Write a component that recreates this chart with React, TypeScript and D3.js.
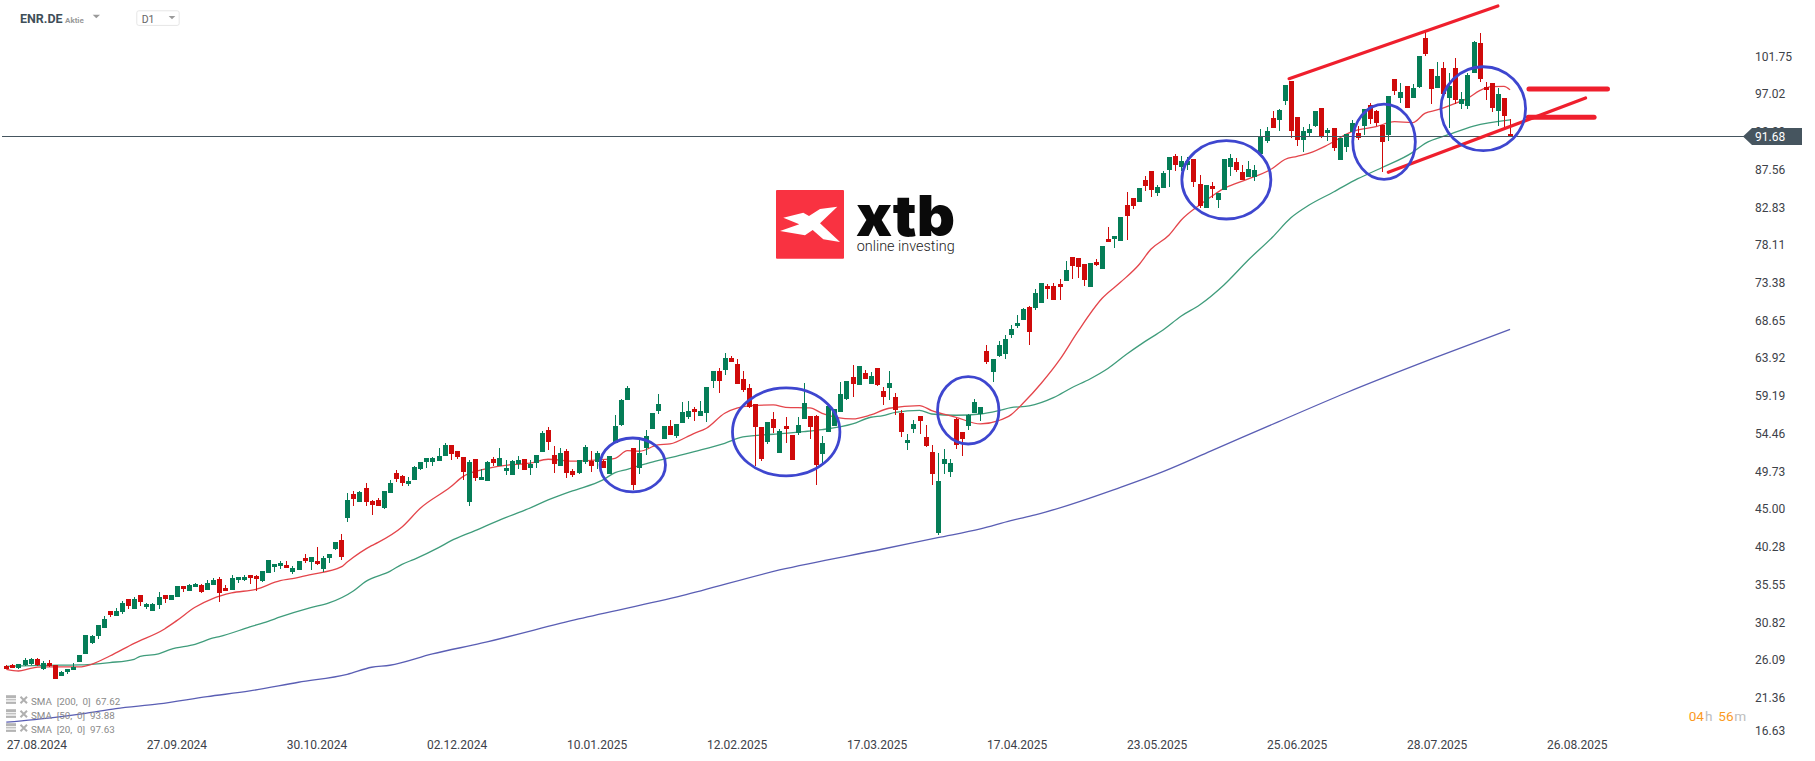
import * as d3 from 'd3';
import React, { useEffect, useRef } from 'react';

const WIDTH = 1815;
const HEIGHT = 761;

const opens = [
  25.43,25.51,25.22,25.56,25.68,26.31,25.10,25.77,25.51,24.18,
  24.64,24.93,25.93,26.94,28.31,29.23,30.19,32.32,31.70,32.20,
  33.83,32.57,34.33,32.83,32.32,33.08,34.33,33.70,34.08,35.46,
  34.83,35.33,35.58,34.95,35.58,36.33,35.21,34.95,36.21,36.21,
  36.83,36.71,36.08,37.09,37.84,37.96,38.09,37.21,37.46,38.96,
  38.46,38.59,37.59,38.96,40.09,41.22,43.98,46.98,45.98,47.74,
  46.11,46.23,45.23,47.11,49.62,49.24,48.24,48.74,50.12,51.00,
  51.00,51.12,51.75,53.13,52.38,51.63,45.99,51.38,48.75,48.62,
  51.38,50.50,49.87,49.37,50.75,51.38,50.25,50.88,52.26,55.01,
  51.88,50.50,52.38,49.87,49.62,51.00,51.13,51.00,51.13,49.50,
  53.38,55.64,58.77,52.76,50.25,52.76,55.14,57.39,53.88,55.51,
  54.26,55.89,56.64,57.64,56.77,57.14,61.15,62.41,62.53,64.04,
  63.28,61.40,60.27,58.27,55.39,53.51,56.39,52.13,55.51,54.39,
  54.64,56.39,56.77,56.77,52.00,54.76,55.51,57.27,58.90,61.65,
  60.65,62.15,60.78,62.78,59.90,60.27,59.14,57.14,53.38,55.13,
  56.76,54.13,52.25,42.06,50.75,49.75,56.39,54.76,55.51,57.14,
  57.01,64.91,62.28,64.28,64.53,66.91,68.04,68.79,70.42,70.30,
  70.92,73.05,73.05,73.30,73.68,76.69,76.56,75.81,72.93,76.06,
  75.18,78.94,78.94,78.69,83.20,84.08,83.58,86.34,87.46,84.71,
  85.33,87.59,89.34,87.97,88.22,88.97,85.84,82.83,85.59,83.83,
  85.08,87.97,88.59,87.34,86.71,86.71,89.59,91.22,94.11,93.86,
  96.24,98.74,94.23,91.35,92.22,93.10,95.36,92.22,92.85,88.84,
  90.47,92.35,92.22,93.10,95.73,94.98,93.23,91.97,98.99,96.61,
  98.11,96.61,97.99,104.13,100.24,97.86,100.37,96.61,100.37,95.86,
  95.61,99.74,103.50,97.99,98.49,94.98,96.61,92.10,
];

const highs = [
  25.56,25.68,25.68,26.43,26.48,26.43,26.06,26.18,25.56,24.80,
  25.10,25.77,26.85,29.32,29.32,30.57,31.66,32.32,32.66,33.53,
  33.83,34.04,34.33,33.33,33.33,34.70,34.33,34.33,35.46,35.46,
  35.71,35.83,35.71,36.21,36.46,36.58,35.58,36.83,36.63,36.83,
  36.83,36.83,37.34,38.71,38.21,38.59,38.59,37.96,38.59,39.47,
  39.09,40.34,39.22,39.47,40.97,41.97,47.11,47.36,47.36,48.36,
  46.23,46.48,47.36,48.74,49.99,49.37,49.12,50.49,51.00,51.50,
  51.62,52.75,53.38,53.13,52.38,51.63,51.25,51.38,50.13,51.13,
  51.63,52.76,51.25,51.25,51.75,51.38,51.25,51.88,54.89,55.39,
  53.01,52.76,52.63,50.13,51.25,53.13,52.38,52.38,51.25,51.75,
  56.89,58.90,60.53,52.76,53.76,55.01,57.14,59.52,55.51,56.26,
  55.76,58.52,58.65,57.89,58.65,60.40,62.41,62.78,64.66,64.29,
  63.91,62.41,60.78,58.27,55.39,56.01,57.27,55.14,56.64,54.39,
  56.64,60.90,56.77,56.89,54.26,58.02,57.64,61.03,61.15,63.16,
  63.03,62.53,62.28,62.78,60.40,62.41,59.60,57.52,54.51,56.26,
  56.76,55.64,53.13,52.13,52.63,51.37,56.51,54.76,57.01,58.89,
  57.89,65.66,63.91,66.16,66.91,68.17,69.42,70.30,70.55,72.68,
  73.43,73.30,73.43,73.93,76.19,76.69,76.56,75.81,75.94,76.44,
  78.07,80.45,79.32,81.70,84.83,84.08,85.33,86.84,87.46,85.71,
  87.46,89.22,89.59,89.34,89.22,88.97,86.96,85.71,86.09,84.71,
  88.97,89.59,89.09,88.22,88.72,88.22,92.73,92.98,94.98,95.23,
  98.24,98.74,94.23,92.98,93.35,94.98,95.36,92.85,92.85,91.60,
  92.10,93.85,93.10,95.23,95.98,95.11,93.23,96.86,98.99,98.49,
  98.11,98.36,101.87,104.88,100.24,101.12,101.12,99.74,101.62,97.36,
  99.74,103.75,104.75,98.61,98.49,97.86,96.61,93.98,
];

const lows = [
  25.01,25.18,25.10,25.47,25.56,25.47,24.97,25.35,23.80,24.14,
  24.43,24.89,25.89,26.94,28.19,28.81,30.15,31.61,31.70,31.95,
  32.62,32.57,32.95,32.57,32.32,32.57,33.33,33.70,34.08,34.70,
  34.83,35.33,34.58,34.95,35.58,33.45,34.83,34.95,35.83,36.08,
  35.71,34.83,35.96,37.09,37.21,37.59,37.71,36.96,37.46,38.34,
  37.46,38.09,37.21,38.34,39.97,38.71,43.48,45.48,45.98,45.48,
  44.35,45.48,45.10,47.11,48.49,47.99,47.99,48.74,49.99,50.24,
  50.49,51.12,51.75,51.25,51.38,48.75,45.49,48.62,48.75,48.62,
  50.50,50.50,49.37,49.37,50.13,50.00,49.37,50.25,52.26,52.51,
  49.62,50.50,49.00,49.12,49.50,50.75,49.75,50.13,50.25,49.50,
  53.38,55.51,58.77,47.49,49.50,51.88,55.14,57.02,53.88,54.39,
  54.01,55.89,56.39,56.14,56.77,56.01,60.27,59.65,61.90,63.53,
  60.78,59.77,57.77,50.50,51.13,53.26,54.64,52.13,53.38,51.25,
  54.39,56.39,53.88,48.12,50.75,54.76,55.51,57.27,58.77,59.15,
  60.65,61.40,60.78,60.53,58.14,58.77,56.89,54.13,52.50,54.63,
  54.51,52.88,48.12,41.85,49.50,49.12,52.63,51.75,55.01,57.14,
  56.14,63.28,61.02,64.16,63.91,66.54,67.79,68.79,65.66,70.05,
  70.92,71.42,71.30,71.30,73.68,73.93,74.06,73.05,72.93,75.56,
  75.18,78.57,77.82,78.69,78.82,82.70,83.58,84.96,84.21,84.33,
  85.33,85.46,87.46,87.46,87.59,85.46,82.83,82.83,84.08,82.83,
  85.08,86.84,87.34,86.34,86.71,86.21,89.59,90.97,92.85,92.48,
  95.73,91.60,90.60,89.84,91.85,92.98,91.60,91.22,89.97,88.84,
  89.84,91.72,91.35,91.97,93.35,93.10,87.34,91.22,96.99,95.98,
  95.36,96.61,97.86,101.87,95.86,97.86,97.11,92.85,95.86,95.23,
  95.23,99.74,98.61,96.36,94.85,93.10,92.72,91.76,
];

const closes = [
  25.10,25.22,25.64,26.18,26.31,25.56,25.77,25.43,23.84,24.68,
  25.06,25.35,26.81,29.32,29.19,30.53,31.32,31.86,32.32,33.37,
  32.95,33.83,33.45,33.20,33.20,34.04,33.83,34.33,35.46,35.08,
  35.58,35.71,34.70,35.83,36.21,34.58,34.83,36.46,36.58,36.58,
  36.46,36.33,37.34,38.71,38.21,38.34,37.71,37.71,38.59,38.59,
  39.09,38.21,38.96,39.47,40.97,39.09,46.23,46.36,47.24,45.98,
  45.61,45.48,47.36,48.36,48.86,48.36,48.61,50.37,51.00,51.50,
  51.50,51.75,53.12,52.00,51.63,49.75,51.00,49.00,49.12,51.00,
  50.88,51.50,50.25,51.13,51.25,50.00,50.75,51.88,54.64,53.51,
  50.75,52.13,49.62,49.37,51.25,52.88,50.50,52.13,50.25,51.75,
  55.51,58.77,60.27,48.12,52.13,54.26,57.14,58.27,55.51,54.39,
  55.76,57.27,57.39,57.27,57.39,60.40,62.41,61.15,64.04,63.53,
  60.78,60.02,57.89,55.39,51.38,56.01,55.26,54.89,55.14,51.25,
  55.64,58.40,55.39,50.63,53.38,58.02,57.64,59.52,61.15,60.78,
  63.03,61.40,61.78,60.65,59.15,60.90,57.52,54.76,53.76,55.76,
  56.14,53.00,49.50,48.62,51.37,50.87,53.13,53.88,56.89,58.52,
  57.89,63.53,63.91,65.66,66.41,67.67,68.42,70.17,67.29,72.18,
  73.43,72.68,71.30,72.93,75.06,75.56,75.43,73.81,75.94,75.68,
  78.07,78.57,79.32,81.70,81.83,83.08,85.33,85.59,85.08,85.46,
  87.21,89.22,88.22,88.72,88.72,86.09,83.08,85.71,85.21,84.71,
  88.97,89.09,87.59,86.34,87.72,87.59,91.72,92.48,92.85,95.11,
  98.24,92.48,91.35,92.47,92.73,94.98,91.72,92.60,90.34,91.60,
  92.10,93.48,91.60,95.23,93.98,93.48,91.10,96.86,97.49,97.36,
  95.36,97.86,101.87,102.12,97.74,99.37,97.11,98.11,96.36,96.48,
  99.49,103.63,98.99,97.61,95.35,97.11,94.35,91.85,
];

// moving averages at these bars
const sma20Bars = [0,2,4,6,12,14,17,21,26,28,31,34,37,41,45,47,50,55,56,60,61,65,68,73,75,78,82,86,89,93,97,100,102,104,107,109,113,115,118,120,122,126,128,132,134,139,142,145,150,152,156,160,163,165,167,170,173,176,180,183,186,188,191,193,196,198,200,202,205,208,210,212,214,217,221,225,228,231,233,235,238,240,242,244,246,247];
const sma20Values = [25.01,24.80,25.14,25.31,25.31,25.64,26.68,28.27,30.07,31.11,32.78,33.91,34.58,35.04,36.12,36.37,36.88,37.84,38.46,40.51,40.89,42.85,45.19,47.88,49.16,50.00,50.58,50.84,51.34,51.09,51.25,51.46,52.42,52.34,53.13,53.26,54.59,55.22,57.10,57.73,58.02,58.14,57.85,57.77,57.10,56.39,56.89,57.73,58.06,57.43,56.60,55.76,56.18,56.90,58.35,60.86,63.78,67.33,71.51,73.51,75.68,77.65,79.44,81.32,83.20,84.30,85.29,85.92,86.75,87.80,88.90,89.30,89.70,90.72,92.39,93.02,93.64,93.52,94.69,95.11,95.94,96.57,97.53,98.03,98.07,97.63];

const sma50Bars = [0,6,12,14,17,21,22,25,27,31,34,35,40,43,45,50,53,57,59,63,65,67,71,73,77,82,85,89,93,98,100,102,105,107,110,113,118,121,126,131,134,139,142,144,146,150,152,156,160,163,165,168,172,175,178,181,184,187,190,193,196,200,204,208,211,214,218,222,226,231,233,237,241,247];
const sma50Values = [25.39,25.51,25.56,25.64,25.85,26.27,26.64,26.94,27.52,28.15,28.94,29.11,30.32,31.03,31.57,32.74,33.33,34.83,36.00,37.29,38.17,38.80,40.26,41.10,42.40,44.03,44.90,46.24,47.37,48.75,49.67,50.08,50.75,51.17,51.71,52.30,53.34,54.13,54.47,54.80,55.05,55.76,56.60,56.80,57.22,57.47,57.01,56.85,57.01,57.43,57.80,58.02,59.06,60.30,61.40,62.74,64.49,66.08,67.54,69.29,70.67,73.18,76.31,79.20,81.60,83.20,84.83,86.50,87.90,89.80,90.90,92.05,93.10,93.88];

const sma200Bars = [0,8,13,18,25,33,40,48,56,60,63,70,78,94,111,127,144,153,160,165,169,183,190,198,209,220,235,247];
const sma200Values = [18.38,19.00,19.50,20.09,20.67,21.59,22.30,23.39,24.39,25.27,25.52,26.94,28.28,31.32,34.24,37.46,40.09,41.51,42.60,43.65,44.36,47.82,49.79,52.42,56.05,59.64,64.16,67.62];

const priceTicks = [101.75,97.02,92.29,87.56,82.83,78.11,73.38,68.65,63.92,59.19,54.46,49.73,45.00,40.28,35.55,30.82,26.09,21.36,16.63];
const dateTicks = ['27.08.2024','27.09.2024','30.10.2024','02.12.2024','10.01.2025','12.02.2025','17.03.2025','17.04.2025','23.05.2025','25.06.2025','28.07.2025','26.08.2025'];
const barsPerDateTick = 23;

const lastPrice = 91.68;

// hand drawn circles of the analyst, in bars and price
const circleBars = [102.9,128.1,158.0,200.4,226.3,242.6];
const circlePrices = [50.62,54.76,57.47,86.36,91.13,95.27];
const circleBarRadius = [5.37,8.82,5.04,7.31,5.14,6.95];
const circlePriceRadius = [3.38,5.51,4.22,4.91,4.72,5.26];

// hand drawn red lines: [bar, price, bar, price]
const channelLines = [
  [210.7,99.03,245,108.14],
  [227,87.3,259.4,96.61],
];
const levelLines = [
  [250.1,97.74,263],
  [250,94.19,260.8],
];

const legendLabels = ['SMA  [200,  0]  67.62','SMA  [50,  0]  93.88','SMA  [20,  0]  97.63'];

const UP = '#057d57';
const DOWN = '#cf0a0a';
const SMA20 = '#e4454b';
const SMA50 = '#3f9c7b';
const SMA200 = '#5a5eb4';
const MARK_RED = '#ef1f2d';
const MARK_BLUE = '#3e46cf';
const FONT = 'Roboto, sans-serif';

const x = d3.scaleLinear().domain([0, 253]).range([6.3, 1546.6]);
const y = d3.scaleLinear().domain([101.75, 26.09]).range([57, 660.7]);

const smaPath = (bars: number[], values: number[]) =>
  d3
    .line<number>()
    .x((d) => x(d))
    .y((_, i) => y(values[i]))
    .curve(d3.curveMonotoneX)(bars) ?? '';

const App: React.FC = () => {
  const xAxisRef = useRef<SVGGElement | null>(null);
  const yAxisRef = useRef<SVGGElement | null>(null);

  useEffect(() => {
    if (!xAxisRef.current || !yAxisRef.current) return;

    const xAxis = d3
      .axisBottom(x)
      .tickValues(dateTicks.map((_, i) => i * barsPerDateTick))
      .tickFormat((_, i) => dateTicks[i])
      .tickSize(0)
      .tickPadding(0);
    const gx = d3.select(xAxisRef.current).call(xAxis as any);
    gx.select('.domain').remove();
    gx.selectAll('text')
      .attr('text-anchor', 'start')
      .attr('dy', '0')
      .attr('y', 0)
      .style('font-family', FONT)
      .style('font-size', '12px')
      .style('fill', '#3d4249');

    const yAxis = d3
      .axisRight(y)
      .tickValues(priceTicks)
      .tickFormat((d) => (d as number).toFixed(2))
      .tickSize(0)
      .tickPadding(0);
    const gy = d3.select(yAxisRef.current).call(yAxis as any);
    gy.select('.domain').remove();
    gy.selectAll('text')
      .attr('x', 0)
      .style('font-family', FONT)
      .style('font-size', '12px')
      .style('fill', '#3d4249');

    // the lowest label is pushed up so it stays above the date row
    gy.selectAll<SVGGElement, number>('.tick')
      .filter((d) => d === 16.63)
      .attr('transform', 'translate(0,732)');
  }, []);

  const lineY = Math.floor(y(lastPrice)) - 0.5;

  return (
    <svg
      width={WIDTH}
      height={HEIGHT}
      viewBox={`0 0 ${WIDTH} ${HEIGHT}`}
      style={{ position: 'absolute', left: 0, top: 0, background: '#fff', display: 'block' }}
    >
      {/* header */}
      <text x={20} y={22.7} fontFamily={FONT} fontSize={12.5} fontWeight={700} fill="#3f4f59">ENR.DE</text>
      <text x={65} y={22.5} fontFamily={FONT} fontSize={8} fontWeight={700} fill="#9a9a9a">Aktie</text>
      <path d="M92.7,14.7H100L96.3,18.3Z" fill="#9a9a9a" />
      <rect x={136.8} y={10.8} width={42.4} height={14.6} rx={2} fill="#fff" stroke="#e6e6e6" />
      <text x={141.7} y={22.7} fontFamily={FONT} fontSize={10.5} fill="#666">D1</text>
      <path d="M168.7,16H175.3L172,19.3Z" fill="#9a9a9a" />

      {/* logo */}
      <g transform="translate(776,190)">
        <rect width={68} height={68.7} rx={1} fill="#f93241" />
        <path
          d="M7.3,27.7L27.3,22.7L33,26L44,19L61.3,16.7L44,33.3L64,52L47.3,49.3L36.7,40L29,45.3L4,41L23.3,34.3Z"
          fill="#fff"
        />
      </g>
      <text x={856} y={235.7} fontFamily="Inter, sans-serif" fontSize={56} fontWeight={900} fill="#0a0a0a" textLength={99} lengthAdjust="spacingAndGlyphs">xtb</text>
      <text x={856.7} y={251} fontFamily={FONT} fontSize={14} fontWeight={300} fill="#222" textLength={98} lengthAdjust="spacingAndGlyphs">online investing</text>

      {/* moving averages */}
      <path d={smaPath(sma200Bars, sma200Values)} fill="none" stroke={SMA200} strokeWidth={1.3} />
      <path d={smaPath(sma50Bars, sma50Values)} fill="none" stroke={SMA50} strokeWidth={1.3} />
      <path d={smaPath(sma20Bars, sma20Values)} fill="none" stroke={SMA20} strokeWidth={1.3} />

      {/* candles */}
      <g shapeRendering="crispEdges">
        {opens.map((open, i) => {
          const close = closes[i];
          const color = close >= open ? UP : DOWN;
          const cx = Math.round(x(i));
          const top = y(Math.max(open, close));
          const bottom = y(Math.min(open, close));
          return (
            <g key={i} fill={color}>
              <rect x={cx} y={y(highs[i])} width={1} height={y(lows[i]) - y(highs[i])} />
              <rect x={cx - 2} y={top} width={5} height={Math.max(bottom - top, 1)} />
            </g>
          );
        })}
      </g>

      {/* last price line, axis and tag */}
      <g ref={yAxisRef} transform="translate(1755,-0.7)" />
      <g ref={xAxisRef} transform="translate(0,749)" />
      <line x1={2} x2={1745} y1={lineY} y2={lineY} stroke="#45555f" strokeWidth={1.2} />
      <path
        d={`M1743,${lineY}L1752,${lineY - 8.5}H1802V${lineY + 8.5}H1752Z`}
        fill="#46555f"
      />
      <text x={1755} y={lineY + 4.3} fontFamily={FONT} fontSize={12} fill="#fff">{lastPrice.toFixed(2)}</text>

      {/* analyst drawings */}
      <g stroke={MARK_RED} strokeLinecap="round" fill="none">
        {channelLines.map((d, i) => (
          <line key={i} x1={x(d[0])} y1={y(d[1])} x2={x(d[2])} y2={y(d[3])} strokeWidth={3.2} />
        ))}
        {levelLines.map((d, i) => (
          <line key={i} x1={x(d[0])} y1={y(d[1])} x2={x(d[2])} y2={y(d[1])} strokeWidth={5} />
        ))}
      </g>
      <g stroke={MARK_BLUE} strokeWidth={2.8} fill="none">
        {circleBars.map((b, i) => (
          <ellipse
            key={i}
            cx={x(b)}
            cy={y(circlePrices[i])}
            rx={x(b + circleBarRadius[i]) - x(b)}
            ry={y(circlePrices[i] - circlePriceRadius[i]) - y(circlePrices[i])}
          />
        ))}
      </g>

      {/* indicator legend */}
      {legendLabels.map((label, i) => {
        const rowY = 704.7 + i * 14;
        return (
          <g key={label}>
            <g fill="#b4b4b4">
              <rect x={6} y={rowY - 9.5} width={10} height={3} />
              <rect x={6} y={rowY - 5.5} width={10} height={1.2} />
              <rect x={6} y={rowY - 3} width={10} height={2.2} />
            </g>
            <path
              d={`M20.5,${rowY - 8}L27,${rowY - 1.5}M27,${rowY - 8}L20.5,${rowY - 1.5}`}
              stroke="#b0b0b0"
              strokeWidth={2}
            />
            <text x={31} y={rowY} fontFamily={FONT} fontSize={9.8} fill="#8a8a8a" style={{ whiteSpace: 'pre' }}>
              {label}
            </text>
          </g>
        );
      })}

      {/* bar countdown */}
      <g fontFamily={FONT} fontSize={13.6}>
        <text x={1688.7} y={721} fill="#fb9a1e">04</text>
        <text x={1705} y={721} fill="#bdbdbd">h</text>
        <text x={1718.3} y={721} fill="#fb9a1e">56</text>
        <text x={1734.3} y={721} fill="#bdbdbd">m</text>
      </g>
    </svg>
  );
};

export default App;
